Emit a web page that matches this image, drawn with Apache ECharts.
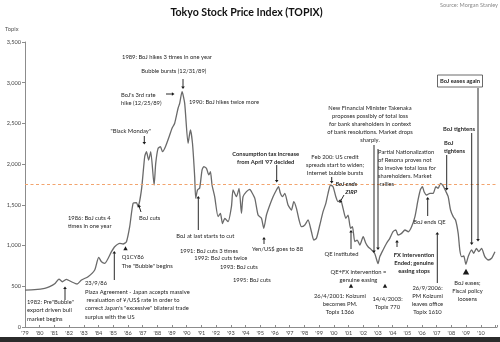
<!DOCTYPE html>
<html>
<head>
<meta charset="utf-8">
<script src="https://cdn.jsdelivr.net/npm/echarts@6/dist/echarts.min.js"></script>
<style>html,body{margin:0;padding:0;background:#fff}#c{width:500px;height:342px}</style>
</head>
<body>
<div id="c"></div>
<script>
// ---- data ----
const years = [1979.0,1979.66,1980.34,1980.68,1981.02,1981.31,1981.54,1981.82,1982.16,1982.54,1982.84,1983.29,1983.74,1984.01,1984.2,1984.42,1984.88,1985.1,1985.45,1985.67,1985.9,1986.12,1986.35,1986.58,1986.69,1986.92,1987.14,1987.26,1987.41,1987.55,1987.78,1987.89,1988.05,1988.21,1988.35,1988.55,1988.84,1989.0,1989.18,1989.41,1989.52,1989.68,1989.86,1990.09,1990.25,1990.39,1990.54,1990.61,1990.73,1990.88,1991.04,1991.16,1991.34,1991.5,1991.61,1991.72,1991.9,1992.13,1992.29,1992.43,1992.59,1992.81,1993.04,1993.15,1993.38,1993.56,1993.72,1993.83,1994.06,1994.29,1994.4,1994.63,1994.85,1995.08,1995.24,1995.42,1995.65,1995.87,1996.1,1996.24,1996.37,1996.51,1996.67,1996.89,1997.12,1997.28,1997.46,1997.64,1997.8,1998.03,1998.25,1998.48,1998.64,1998.82,1999.05,1999.27,1999.46,1999.61,1999.78,1999.95,2000.14,2000.29,2000.46,2000.63,2000.82,2000.97,2001.14,2001.27,2001.43,2001.59,2001.77,2002.0,2002.18,2002.33,2002.57,2002.79,2003.01,2003.13,2003.35,2003.59,2003.81,2004.03,2004.22,2004.37,2004.61,2004.84,2005.07,2005.29,2005.52,2005.73,2005.9,2006.03,2006.14,2006.31,2006.54,2006.76,2006.94,2007.1,2007.26,2007.44,2007.63,2007.78,2007.94,2008.12,2008.28,2008.46,2008.57,2008.69,2008.84,2008.98,2009.14,2009.37,2009.52,2009.7,2009.86,2010.05,2010.27,2010.5,2010.73,2010.96];
const topix = [454,460,475,495,530,589,556,585,556,528,577,618,700,856,802,782,925,986,1028,1019,1048,1232,1519,1527,1478,1683,2091,2153,2051,2153,1744,2010,2194,2214,2153,2214,2358,2440,2502,2686,2747,2890,2747,2256,2420,2256,1846,1580,1683,1707,1928,1969,1949,1867,1907,1744,1600,1355,1396,1270,1335,1293,1478,1683,1600,1703,1396,1600,1662,1691,1662,1580,1375,1335,1212,1375,1498,1600,1683,1723,1642,1600,1642,1498,1437,1539,1457,1314,1232,1253,1314,1170,1068,1089,1253,1416,1519,1642,1744,1723,1600,1539,1560,1457,1335,1375,1212,1232,1048,1068,1007,1109,1028,986,946,900,780,864,946,1028,1089,1170,1191,1130,1150,1191,1170,1232,1355,1560,1691,1723,1662,1621,1642,1642,1723,1703,1765,1732,1662,1600,1437,1355,1314,1150,946,864,872,770,864,946,905,966,925,966,864,823,844,925];
const yTickValues = [0,500,1000,1500,2000,2500,3000,3500];
const xTickLabels = ["'79","'80","'81","'82","'83","'84","'85","'86","'87","'88","'89","'90","'91","'92","'93","'94","'95","'96","'97","'98","'99","'00","'01","'02","'03","'04","'05","'06","'07","'08","'09","'10"];
const refLevel = 1750;

// ---- annotations (pixel layout) ----
const FONT = 'Lato, "Open Sans", sans-serif';
const notes = [
  {t:"1989: BoJ hikes 3 times in one year", x:167, y:57, a:'center'},
  {t:"Bubble bursts (12/31/89)", x:173.8, y:71, a:'center'},
  {t:"BoJ's 3rd rate\nhike (12/25/89)", x:121, y:95, a:'left'},
  {t:"1990: BoJ hikes twice more", x:189, y:102, a:'left'},
  {t:"New Financial Minister Takenaka\nproposes possibly of total loss\nfor bank shareholders in context\nof bank resolutions. Market drops\nsharply.", x:370, y:108, a:'center'},
  {t:"BoJ eases again", x:460, y:81, a:'center', b:true},
  {t:"BoJ tightens", x:459, y:129, a:'center', b:true},
  {t:"BoJ\ntightens", x:444, y:143, a:'left', b:true},
  {t:"Partial Nationalization\nof Resona proves not\nto involve total loss for\nshareholders. Market\n rallies", x:378, y:151.7, a:'left'},
  {t:"Consumption tax increase\nfrom April '97 decided", x:265.7, y:154, a:'center', b:true},
  {t:"Feb 200: US credit\nspreads start to widen;\nInternet bubble bursts", x:335, y:156.7, a:'center'},
  {t:"BoJ ends\nZIRP", x:357, y:184, a:'right', b:true, i:true},
  {t:"\"Black Monday\"", x:130.7, y:130.7, a:'center'},
  {t:"1986: BoJ cuts 4\ntimes in one year", x:68, y:217.7, a:'left', lh:8.5},
  {t:"BoJ cuts", x:139, y:218.3, a:'left'},
  {t:"BoJ at last starts to cut", x:205.3, y:236, a:'center'},
  {t:"1991: BoJ cuts 3 times", x:180, y:250.7, a:'left'},
  {t:"1992: BoJ cuts twice", x:194.3, y:258.3, a:'left'},
  {t:"1993: BoJ cuts", x:220, y:267.3, a:'left'},
  {t:"1995: BoJ cuts", x:233, y:280, a:'left'},
  {t:"Yen/US$ goes to 88", x:277.5, y:249.3, a:'center'},
  {t:"QE instituted", x:341.5, y:254.3, a:'center'},
  {t:"QE+FX intervention =\ngenuine easing", x:358.5, y:272.3, a:'center'},
  {t:"26/4/2001: Koizumi\nbecomes PM.\nTopix 1366", x:340, y:296, a:'center'},
  {t:"14/4/2003:\nTopix 770", x:387.5, y:299, a:'center'},
  {t:"FX Intervention\nEnded; genuine\neasing stops", x:414, y:255, a:'center', b:true},
  {t:"26/9/2006:\nPM Koizumi\nleaves office\nTopix 1610", x:427.5, y:288.3, a:'center'},
  {t:"BoJ ends QE", x:429.5, y:221.7, a:'center'},
  {t:"BoJ eases;\nFiscal policy\nloosens", x:467.5, y:283.3, a:'center'},
  {t:"Q1CY86\nThe \"Bubble\" begins", x:121.7, y:256.7, a:'left', lh:9},
  {t:"23/9/86\nPlaza Agreement - Japan accepts massive\n revaluation of \u00a5/US$ rate in order to\ncorrect Japan's \"excessive\" bilateral trade\nsurplus with the US", x:85, y:283.3, a:'left', lh:8.35},
  {t:"1982: Pre\"Bubble\"\nexport driven bull\nmarket begins", x:27, y:301.7, a:'left', lh:8.6}
];
const arrows = [
  [183,79,183,89],[166,94,174.5,94],[144.3,136,144.3,144.5],[141,212,138.5,204.5],
  [198.3,230,198.3,196],[114.3,280,114.3,251],[65,300,65,286.5],[264,244,264,237],
  [276.7,165,276.7,182.5],[331.7,177,331.7,183.5],[344,195,339.5,203],[351,249,351,230],
  [374,145,374,253],[378,149,378,250],[397,247,397,240],[437.3,283,437.3,232],
  [427.7,216,427.7,197],[446.7,155,446.7,190.5],[471.7,133,471.7,245],[478,88,478,241.5]
];
const triangles = [[125.5,248.5,2.2],[351,286,2.2],[385,286,2.2],[466,272,3.2]];

const chart = echarts.init(document.getElementById('c'), null, {renderer:'canvas'});
const g = [];
notes.forEach(n => {
  const lh = n.lh || 8;
  g.push({type:'text', z:50, style:{
    text:n.t, x:n.x, y:n.y - lh/2, fill:'#262626', align:n.a, verticalAlign:'top', lineHeight:lh,
    font:(n.i?'italic ':'')+(n.b?'bold ':'')+'5.8px '+FONT}});
});
arrows.forEach(([x1,y1,x2,y2]) => {
  const dx=x2-x1, dy=y2-y1, L=Math.hypot(dx,dy), ux=dx/L, uy=dy/L, s=2.6;
  g.push({type:'line', z:40, shape:{x1,y1,x2:x2-ux*s*0.8,y2:y2-uy*s*0.8}, style:{stroke:'#2a2a2a', lineWidth:1}});
  g.push({type:'polygon', z:40, shape:{points:[[x2,y2],[x2-ux*s-uy*s*0.7,y2-uy*s+ux*s*0.7],[x2-ux*s+uy*s*0.7,y2-uy*s-ux*s*0.7]]}, style:{fill:'#1a1a1a'}});
});
triangles.forEach(([x,y,s]) => {
  g.push({type:'polygon', z:40, shape:{points:[[x,y-s],[x-s,y+s*0.8],[x+s,y+s*0.8]]}, style:{fill:'#1a1a1a'}});
});
g.push({type:'rect', z:39, shape:{x:437.5,y:75,width:45,height:12}, style:{fill:'#fff', stroke:'#444', lineWidth:0.8}});
g.push({type:'text', z:50, style:{text:'Tokyo Stock Price Index (TOPIX)', x:246.5, y:13, align:'center', verticalAlign:'middle', fill:'#111', font:'bold 10.6px '+FONT}});
g.push({type:'text', z:50, style:{text:'Source: Morgan Stanley', x:498, y:5, align:'right', verticalAlign:'middle', fill:'#8a8a8a', font:'5.6px '+FONT}});
g.push({type:'text', z:50, style:{text:'Topix', x:5, y:29, align:'left', verticalAlign:'middle', fill:'#555', font:'5.8px '+FONT}});
g.push({type:'rect', z:60, shape:{x:0,y:337,width:500,height:5}, style:{fill:'#2b2b2b'}});

chart.setOption({
  animation:false,
  grid:{left:25, right:3, top:42, bottom:15},
  xAxis:{type:'value', min:1979, max:2011.1, interval:1,
    axisLine:{lineStyle:{color:'#8c8c8c', width:1}},
    axisTick:{inside:true, length:2, lineStyle:{color:'#8c8c8c'}},
    splitLine:{show:false},
    axisLabel:{margin:3, fontSize:5.6, fontFamily:FONT, color:'#444',
      formatter:v => { const i = Math.round(v) - 1979; return (i>=0 && i<xTickLabels.length) ? xTickLabels[i] : ''; }}},
  yAxis:{type:'value', min:0, max:3500, interval:500,
    axisLine:{show:true, lineStyle:{color:'#8c8c8c', width:1}},
    axisTick:{show:true, length:3, lineStyle:{color:'#8c8c8c'}},
    splitLine:{show:false},
    axisLabel:{margin:4, fontSize:5.6, fontFamily:FONT, color:'#444',
      formatter:v => yTickValues.includes(v) ? v.toLocaleString('en-US') : ''}},
  series:[{type:'line', data:years.map((y,i)=>[y, topix[i]]), symbol:'none', smooth:0.2,
    lineStyle:{color:'#6a6a6a', width:1.3},
    markLine:{silent:true, symbol:'none', label:{show:false},
      lineStyle:{color:'#f2a46e', type:[3,2.5], width:1},
      data:[{yAxis:refLevel}]}}],
  graphic:g
});
</script>
</body>
</html>
